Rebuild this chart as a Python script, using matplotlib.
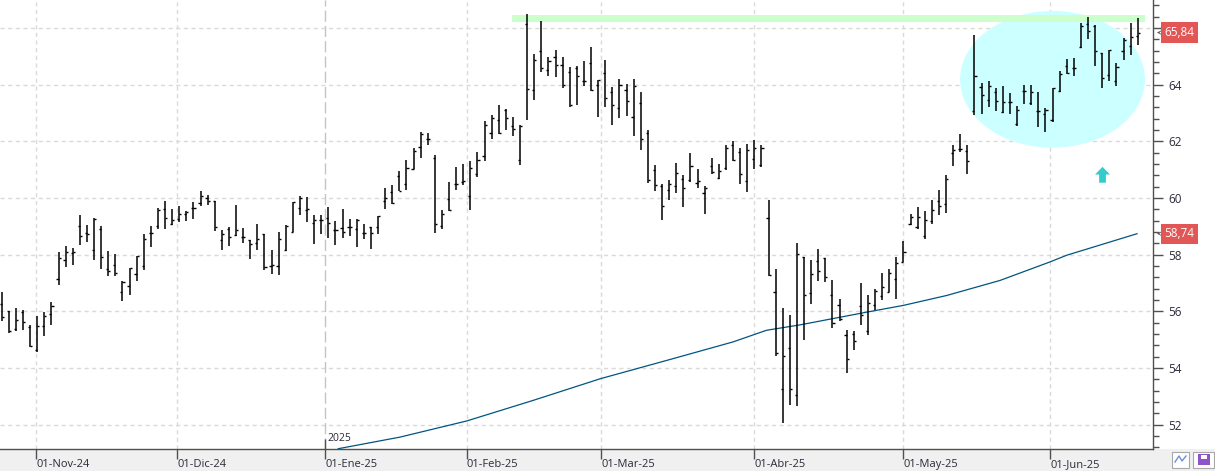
import numpy as np
import matplotlib
matplotlib.use("Agg")
import matplotlib.pyplot as plt
from matplotlib.patches import Ellipse, Rectangle
from matplotlib.ticker import MultipleLocator

plt.rcParams['font.family'] = ['Open Sans', 'DejaVu Sans']

# daily OHLC bars (Nov-24 .. mid Jun-25)
opens = [56.27, 56.00, 55.38, 55.96, 55.45, 54.62, 55.48, 55.91, 57.14, 57.81,
         58.06, 59.01, 58.76, 58.18, 58.92, 57.49, 57.65, 56.68, 56.91, 57.32,
         57.60, 58.76, 59.00, 59.61, 59.08, 59.26, 59.44, 59.65, 59.82, 60.00,
         59.88, 58.53, 58.91, 58.68, 58.62, 58.51, 58.41, 58.74, 57.60, 57.61,
         58.16, 58.80, 59.65, 59.58, 59.11, 59.24, 59.29, 58.88, 58.94, 58.97,
         58.92, 58.78, 58.96, 58.99, 59.91, 60.21, 60.76, 60.51, 61.04, 61.80,
         62.08, 61.41, 59.02, 59.96, 60.51, 60.55, 60.08, 60.86, 61.49, 62.29,
         62.76, 63.10, 62.55, 61.35, 66.14, 63.82, 65.20, 64.53, 64.98, 64.71,
         64.45, 64.59, 64.14, 64.76, 64.00, 64.41, 63.74, 63.18, 63.82, 62.86,
         63.35, 62.29, 60.98, 60.44, 60.29, 60.41, 60.67, 60.62, 60.53, 60.18,
         61.12, 60.72, 61.07, 61.88, 61.62, 60.60, 61.39, 61.18, 59.31, 56.68,
         53.25, 54.72, 53.06, 57.92, 56.66, 57.76, 57.90, 56.56, 56.21, 55.15,
         55.21, 56.20, 55.29, 56.24, 56.55, 56.69, 57.15, 57.75, 59.08, 58.98,
         58.65, 59.18, 59.88, 59.79, 61.59, 61.73, 61.67, 63.08, 63.91, 63.47,
         63.74, 63.02, 63.39, 62.62, 63.79, 63.35, 63.08, 62.96, 62.76, 63.76,
         64.65, 64.59, 65.32, 66.14, 66.06, 65.12, 64.33, 64.12, 65.20, 65.35,
         65.71]
highs = [56.67, 56.00, 56.12, 56.06, 55.53, 55.85, 55.96, 56.32, 58.11, 58.32,
         58.24, 59.41, 59.06, 59.29, 59.02, 58.14, 58.02, 57.06, 57.53, 57.96,
         58.73, 59.00, 59.65, 59.91, 59.62, 59.73, 59.55, 59.86, 60.26, 60.12,
         59.91, 58.88, 58.98, 59.76, 58.94, 58.53, 59.09, 58.74, 58.18, 58.80,
         59.05, 59.87, 60.08, 60.04, 59.41, 59.41, 59.69, 59.20, 59.61, 59.27,
         59.27, 59.08, 58.96, 59.36, 60.35, 60.47, 60.96, 61.35, 61.76, 62.33,
         62.29, 61.51, 59.59, 60.56, 61.09, 61.21, 61.29, 61.62, 62.73, 62.94,
         63.29, 63.15, 62.85, 62.59, 66.50, 65.09, 66.26, 64.98, 65.24, 64.98,
         64.61, 64.67, 64.82, 65.32, 64.18, 64.88, 63.92, 64.21, 64.02, 64.21,
         63.73, 62.41, 61.18, 60.51, 60.65, 61.24, 60.80, 61.59, 61.04, 60.44,
         61.42, 61.21, 61.86, 62.00, 61.78, 61.89, 62.04, 61.86, 59.92, 57.48,
         56.12, 55.86, 58.42, 57.92, 57.80, 58.21, 57.90, 57.09, 56.42, 55.33,
         55.29, 57.00, 56.59, 56.79, 57.35, 57.51, 57.92, 58.49, 59.45, 59.68,
         59.55, 59.94, 60.29, 60.82, 61.88, 62.27, 61.88, 65.76, 64.06, 64.14,
         63.88, 63.94, 63.71, 63.24, 63.98, 64.00, 63.74, 63.18, 63.88, 64.47,
         64.92, 64.94, 66.18, 66.38, 66.09, 65.12, 65.24, 64.76, 65.65, 66.18,
         66.35]
lows = [55.67, 55.24, 55.29, 55.35, 54.73, 54.55, 55.12, 55.51, 56.94, 57.55,
        57.65, 58.35, 58.45, 57.82, 57.51, 57.24, 57.24, 56.35, 56.59, 57.08,
        57.47, 58.26, 58.92, 58.92, 59.06, 59.14, 59.18, 59.27, 59.71, 59.76,
        58.85, 58.15, 58.32, 58.65, 58.41, 57.86, 58.18, 57.47, 57.33, 57.27,
        58.12, 58.79, 59.39, 59.14, 58.39, 58.74, 58.58, 58.35, 58.59, 58.65,
        58.26, 58.55, 58.20, 58.74, 59.61, 59.79, 60.24, 60.27, 61.02, 61.41,
        61.86, 58.76, 58.92, 59.53, 60.27, 60.45, 59.56, 60.74, 61.29, 62.08,
        62.26, 62.39, 62.20, 61.18, 62.74, 63.45, 64.45, 64.29, 64.26, 63.88,
        63.20, 63.29, 63.94, 63.76, 62.85, 63.20, 62.59, 62.82, 62.91, 62.18,
        61.68, 60.53, 60.24, 59.24, 59.92, 60.18, 59.67, 60.56, 60.35, 59.44,
        60.86, 60.68, 60.98, 61.31, 60.51, 60.21, 61.04, 61.09, 57.25, 54.42,
        52.07, 52.68, 52.66, 54.98, 56.25, 57.06, 57.04, 55.41, 55.66, 53.82,
        54.65, 55.51, 55.15, 56.06, 56.41, 56.68, 56.45, 57.73, 59.04, 58.91,
        58.56, 59.08, 59.41, 59.47, 61.12, 61.61, 60.86, 62.92, 62.98, 63.20,
        63.06, 63.00, 62.96, 62.53, 63.32, 63.27, 62.49, 62.32, 62.68, 63.74,
        64.38, 64.29, 65.29, 65.61, 64.65, 63.88, 64.12, 63.94, 64.88, 65.04,
        65.39]
closes = [55.80, 55.32, 55.69, 55.62, 54.76, 55.49, 55.85, 56.19, 57.89, 58.09,
          58.08, 58.66, 58.73, 59.26, 57.93, 57.44, 57.35, 57.02, 57.53, 57.94,
          58.56, 58.78, 59.59, 59.29, 59.24, 59.45, 59.51, 59.65, 60.06, 59.88,
          58.96, 58.74, 58.62, 58.86, 58.62, 58.39, 58.55, 57.55, 57.65, 58.55,
          59.02, 59.85, 60.00, 59.61, 59.24, 59.24, 59.12, 58.88, 58.79, 58.97,
          59.24, 58.78, 58.76, 59.35, 60.00, 59.82, 60.26, 61.06, 61.67, 62.27,
          62.08, 59.08, 59.45, 59.56, 60.51, 60.61, 61.06, 61.33, 62.56, 62.82,
          62.29, 62.82, 62.45, 62.55, 63.85, 64.88, 64.59, 64.85, 64.71, 63.98,
          63.27, 64.32, 64.12, 63.82, 64.15, 63.53, 63.27, 63.98, 63.44, 63.94,
          62.09, 60.62, 60.47, 59.73, 60.49, 60.88, 60.35, 61.14, 60.59, 60.35,
          60.92, 60.95, 61.78, 61.35, 60.86, 61.71, 61.78, 61.78, 57.29, 54.54,
          54.42, 53.25, 58.04, 56.59, 57.33, 57.42, 57.21, 55.60, 55.74, 54.33,
          54.95, 55.88, 56.29, 56.71, 56.86, 57.35, 57.71, 58.09, 59.33, 59.33,
          59.24, 59.56, 59.73, 60.67, 61.71, 61.73, 61.29, 64.29, 63.62, 63.94,
          63.44, 63.39, 63.39, 63.12, 63.79, 63.74, 63.08, 63.12, 63.88, 64.38,
          64.41, 64.59, 66.06, 65.91, 65.18, 64.24, 65.21, 64.61, 65.59, 65.68,
          65.84]

# moving average (blue line), read at a few bar positions
ma_idx = [47.4, 56.1, 65.5, 74.9, 84.3, 93.7, 103.0, 107.7, 112.4, 121.8,
          127.0, 133.1, 140.6, 147.6, 150.0, 159.9]
ma_val = [51.15, 51.56, 52.13, 52.86, 53.62, 54.27, 54.92, 55.33, 55.52, 55.97,
          56.21, 56.56, 57.09, 57.74, 57.98, 58.74]

date_labels = ['01-Nov-24', '01-Dic-24', '01-Ene-25', '01-Feb-25',
               '01-Mar-25', '01-Abr-25', '01-May-25', '01-Jun-25']
date_pos = [4.87, 24.73, 45.58, 65.49, 84.45, 106.0, 126.99, 147.69]
year_label = '2025'

last_close = 65.84
last_ma = 58.74
resist_lo, resist_hi = 66.23, 66.47

W, H = 1215, 471
fig = plt.figure(figsize=(W / 100, H / 100), dpi=100)
fig.add_artist(Rectangle((0, 0), 1, 22 / H, transform=fig.transFigure,
                         fc='#f0f0f0', ec='none', zorder=-5))
ax = fig.add_axes([0, 22 / H, 1153 / W, 449 / H])
ax.set_xlim(-0.24, 162.15)
ax.set_ylim(51.14, 66.99)

for s in ['left', 'top']:
    ax.spines[s].set_visible(False)
for s in ['right', 'bottom']:
    ax.spines[s].set_color('#505050')
    ax.spines[s].set_linewidth(1.0)

# grid
for v in range(52, 67, 2):
    ax.axhline(v, color='#dadada', lw=1.0, ls=(0, (3, 2.5)), zorder=0.5)
for i, p in enumerate(date_pos):
    if date_labels[i] == '01-Ene-25':
        ax.axvline(p, color='#c4c4c4', lw=1.0, ls=(0, (8, 3)), zorder=0.5)
    else:
        ax.axvline(p, color='#dadada', lw=1.0, ls=(0, (3, 2.5)), zorder=0.5)

# highlight zone + resistance
ax.add_patch(Ellipse((148.0, 64.19), 26.05, 4.83, fc='#ccffff', ec='none', zorder=1))
ax.add_patch(Rectangle((71.9, resist_lo), 161.0 - 71.9, resist_hi - resist_lo,
                       fc='#ccffcc', ec='none', zorder=2))
ax.arrow(155.04, 60.54, 0, 0.56, width=0.95, head_width=2.1, head_length=0.27,
         length_includes_head=True, fc='#33cccc', ec='none', zorder=2)

# OHLC bars
x = np.arange(len(opens))
ax.vlines(x, lows, highs, color='black', lw=1.1, zorder=4)
ax.hlines(opens, x - 0.3, x, color='black', lw=1.0, zorder=4)
ax.hlines(closes, x, x + 0.3, color='black', lw=1.0, zorder=4)

ax.plot(ma_idx, ma_val, color='#00557f', lw=0.9, zorder=3)

# axes ticks
ax.yaxis.tick_right()
yt = list(range(52, 67, 2))
ax.set_yticks(yt)
ax.set_yticklabels([str(v) if v < 66 else '' for v in yt])
ax.yaxis.set_minor_locator(MultipleLocator(0.4))
ax.tick_params(axis='y', which='major', length=7, width=1, color='#505050',
               pad=4, labelsize=8.5, labelcolor='#2b2b3b')
ax.tick_params(axis='y', which='minor', length=4, width=1, color='#505050')

ax.set_xticks(date_pos)
ax.set_xticklabels(date_labels, ha='left')
ax.tick_params(axis='x', which='major', length=7, width=1, color='#505050',
               pad=0, labelsize=8, labelcolor='#2b2b3b')
ax.vlines(date_pos[2], 51.14, 51.48, color='#505050', lw=1.0, zorder=5)
ax.text(date_pos[2] + 0.3, 51.3, year_label, fontsize=7.5, color='#2b2b3b',
        va='bottom', ha='left', zorder=5)

# value flags on the right axis
for val in [last_close, last_ma]:
    ypx = 28 + (66 - val) * 28.33
    fig.text(1179.5 / W, 1 - ypx / H, f'{val:.2f}'.replace('.', ','),
             ha='center', va='center', fontsize=8.5, color='white',
             bbox=dict(boxstyle='square,pad=0.3', fc='#e35656', ec='none'))
    ax.annotate('', xy=(1.001, val), xytext=(1.008, val),
                xycoords=('axes fraction', 'data'),
                arrowprops=dict(arrowstyle='->', lw=0.6, color='#555555'))

# small toolbar icons bottom-right
fig.add_artist(Rectangle((1172 / W, 3.5 / H), 17 / W, 16 / H, transform=fig.transFigure,
                         fc='white', ec='#a8a8a8', lw=0.8))
fig.add_artist(plt.Line2D([1175 / W, 1179 / W, 1182 / W, 1186 / W],
                          [9 / H, 15 / H, 10 / H, 15 / H], color='#6a8fd8', lw=1.0))
fig.add_artist(Rectangle((1193 / W, 3.5 / H), 21 / W, 16 / H, transform=fig.transFigure,
                         fc='white', ec='#a8a8a8', lw=0.8))
fig.add_artist(Rectangle((1198 / W, 6 / H), 12 / W, 11 / H, transform=fig.transFigure,
                         fc='#8f52c9', ec='none'))
fig.add_artist(Rectangle((1201 / W, 12.5 / H), 6 / W, 4 / H, transform=fig.transFigure,
                         fc='white', ec='none'))

fig.savefig('out.png', dpi=100, facecolor='white')
